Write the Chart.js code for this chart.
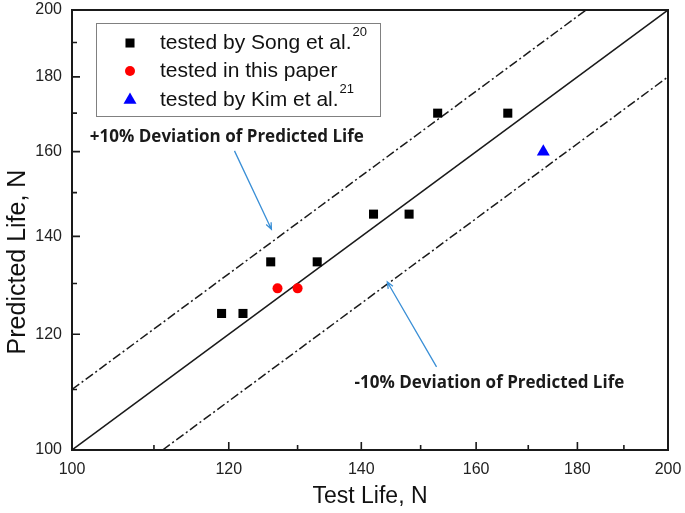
<!DOCTYPE html>
<html>
<head>
<meta charset="utf-8">
<script src="https://cdn.jsdelivr.net/npm/chart.js@4/dist/chart.umd.min.js"></script>
<style>
  body { margin: 0; background: #fff; }
  #wrap { width: 685px; height: 513px; }
</style>
</head>
<body>
<div id="wrap"><canvas id="lifeChart" width="685" height="513"></canvas></div>
<script>
// data (log-log axes)
const songX = [119, 122, 126, 133, 142, 148, 153, 166];
const songY = [124, 124, 134.5, 134.5, 145, 145, 170, 170];
const paperX = [127, 130];
const paperY = [129, 129];
const kimX = [173];
const kimY = [160];

const axisMin = 100;
const axisMax = 200;
const majorTicks = [100, 120, 140, 160, 180, 200];
const minorTicks = [110, 130, 150, 170, 190];

// y = ratio * x reference lines
const exactRatio = 1;
const deviationRatios = [1.1, 0.9];

const legendLabels = ['tested by Song et al.', 'tested in this paper', 'tested by Kim et al.'];
const legendRefs = ['20', '', '21'];

const upperNote = '+10% Deviation of Predicted Life';
const lowerNote = '-10% Deviation of Predicted Life';
// arrow start/end and text anchor, in data units
const upperArrow = [[120.8, 160.2], [126.1, 141.6]];
const lowerArrow = [[152.8, 114.0], [144.3, 130.3]];
const upperNotePos = [102.1, 163.7];
const lowerNotePos = [138.9, 111.1];

function pts(xs, ys) {
  return xs.map((x, i) => ({ x: x, y: ys[i] }));
}

function ratioLine(k) {
  const x0 = Math.max(axisMin, axisMin / k);
  const x1 = Math.min(axisMax, axisMax / k);
  return [{ x: x0, y: k * x0 }, { x: x1, y: k * x1 }];
}

const FONT = '"Liberation Sans", Arial, sans-serif';

const markers = [
  { style: 'rect', color: '#000000', radius: 6.4 },
  { style: 'circle', color: '#ff0000', radius: 5 },
  { style: 'triangle', color: '#0000ff', radius: 7.5 }
];

function drawMarker(ctx, m, x, y) {
  ctx.save();
  ctx.fillStyle = m.color;
  ctx.beginPath();
  if (m.style === 'rect') {
    const s = m.radius * Math.SQRT1_2;
    ctx.rect(x - s, y - s, 2 * s, 2 * s);
  } else if (m.style === 'circle') {
    ctx.arc(x, y, m.radius, 0, Math.PI * 2);
  } else {
    const r = m.radius;
    ctx.moveTo(x, y - r);
    ctx.lineTo(x + r * Math.sin(Math.PI * 2 / 3), y + r * 0.5);
    ctx.lineTo(x - r * Math.sin(Math.PI * 2 / 3), y + r * 0.5);
    ctx.closePath();
  }
  ctx.fill();
  ctx.restore();
}

const decorPlugin = {
  id: 'decor',
  afterDraw(chart) {
    const ctx = chart.ctx;
    const a = chart.chartArea;
    const xs = chart.scales.x;
    const ys = chart.scales.y;

    // frame
    ctx.save();
    ctx.strokeStyle = '#1a1a1a';
    ctx.lineWidth = 2;
    ctx.strokeRect(a.left, a.top, a.right - a.left, a.bottom - a.top);

    // inward ticks on left and bottom
    ctx.lineWidth = 1.6;
    ctx.beginPath();
    majorTicks.forEach(v => {
      const px = xs.getPixelForValue(v);
      const py = ys.getPixelForValue(v);
      ctx.moveTo(px, a.bottom); ctx.lineTo(px, a.bottom - 8);
      ctx.moveTo(a.left, py); ctx.lineTo(a.left + 8, py);
    });
    minorTicks.forEach(v => {
      const px = xs.getPixelForValue(v);
      const py = ys.getPixelForValue(v);
      ctx.moveTo(px, a.bottom); ctx.lineTo(px, a.bottom - 5);
      ctx.moveTo(a.left, py); ctx.lineTo(a.left + 5, py);
    });
    ctx.stroke();
    ctx.restore();

    // y axis title (sits a little below the centre in the original)
    ctx.save();
    ctx.translate(18, 262);
    ctx.rotate(-Math.PI / 2);
    ctx.fillStyle = '#111';
    ctx.font = '25px ' + FONT;
    ctx.textAlign = 'center';
    ctx.textBaseline = 'middle';
    ctx.fillText('Predicted Life, N', 0, 0);
    ctx.restore();

    // legend box
    ctx.save();
    ctx.strokeStyle = '#808080';
    ctx.lineWidth = 1;
    ctx.strokeRect(96.5, 23.5, 284, 93);
    ctx.textBaseline = 'middle';
    ctx.fillStyle = '#111';
    const rowY = [43, 71, 100];
    legendLabels.forEach((txt, i) => {
      drawMarker(ctx, markers[i], 130, rowY[i]);
      ctx.font = '21px ' + FONT;
      ctx.fillText(txt, 160, rowY[i]);
      if (legendRefs[i]) {
        const w = ctx.measureText(txt).width;
        ctx.font = '13px ' + FONT;
        ctx.fillText(legendRefs[i], 160 + w + 1, rowY[i] - 11);
      }
    });
    ctx.restore();

    // annotations
    ctx.save();
    ctx.strokeStyle = '#3a8fd6';
    ctx.lineWidth = 1.3;
    [upperArrow, lowerArrow].forEach(arr => {
      const x0 = xs.getPixelForValue(arr[0][0]), y0 = ys.getPixelForValue(arr[0][1]);
      const x1 = xs.getPixelForValue(arr[1][0]), y1 = ys.getPixelForValue(arr[1][1]);
      const ang = Math.atan2(y1 - y0, x1 - x0);
      ctx.beginPath();
      ctx.moveTo(x0, y0);
      ctx.lineTo(x1, y1);
      ctx.moveTo(x1 - 7 * Math.cos(ang - 0.4), y1 - 7 * Math.sin(ang - 0.4));
      ctx.lineTo(x1, y1);
      ctx.lineTo(x1 - 7 * Math.cos(ang + 0.4), y1 - 7 * Math.sin(ang + 0.4));
      ctx.stroke();
    });
    ctx.fillStyle = '#1a1a1a';
    ctx.font = 'bold 17px "Open Sans", sans-serif';
    ctx.textBaseline = 'middle';
    ctx.fillText(upperNote, xs.getPixelForValue(upperNotePos[0]), ys.getPixelForValue(upperNotePos[1]));
    ctx.fillText(lowerNote, xs.getPixelForValue(lowerNotePos[0]), ys.getPixelForValue(lowerNotePos[1]));
    ctx.restore();
  }
};

const refLine = {
  borderColor: '#1a1a1a',
  borderWidth: 1.5,
  pointRadius: 0,
  showLine: true,
  fill: false
};

new Chart(document.getElementById('lifeChart'), {
  type: 'scatter',
  data: {
    datasets: [
      {
        label: legendLabels[0],
        data: pts(songX, songY),
        pointStyle: markers[0].style,
        pointRadius: markers[0].radius,
        backgroundColor: markers[0].color,
        borderWidth: 0
      },
      {
        label: legendLabels[1],
        data: pts(paperX, paperY),
        pointStyle: markers[1].style,
        pointRadius: markers[1].radius,
        backgroundColor: markers[1].color,
        borderWidth: 0
      },
      {
        label: legendLabels[2],
        data: pts(kimX, kimY),
        pointStyle: markers[2].style,
        pointRadius: markers[2].radius,
        backgroundColor: markers[2].color,
        borderWidth: 0
      },
      Object.assign({ data: ratioLine(exactRatio) }, refLine),
      Object.assign({ data: ratioLine(deviationRatios[0]), borderDash: [9, 3, 2, 3] }, refLine),
      Object.assign({ data: ratioLine(deviationRatios[1]), borderDash: [9, 3, 2, 3] }, refLine)
    ]
  },
  options: {
    responsive: false,
    devicePixelRatio: 1,
    animation: false,
    layout: { padding: { left: 0, right: 17, top: 10, bottom: 0 } },
    plugins: {
      legend: { display: false },
      tooltip: { enabled: false }
    },
    scales: {
      x: {
        type: 'logarithmic',
        min: axisMin,
        max: axisMax,
        grid: { display: false, drawTicks: false },
        border: { display: false },
        afterBuildTicks: s => { s.ticks = majorTicks.map(v => ({ value: v })); },
        afterFit: s => { s.height = 63; s.paddingLeft = 0; s.paddingRight = 0; },
        ticks: {
          callback: v => String(v),
          padding: 10,
          color: '#222',
          font: { family: FONT, size: 16 },
          maxRotation: 0,
          autoSkip: false
        },
        title: {
          display: true,
          text: 'Test Life, N',
          color: '#111',
          font: { family: FONT, size: 23 },
          padding: { top: 0, bottom: 3 }
        }
      },
      y: {
        type: 'logarithmic',
        min: axisMin,
        max: axisMax,
        grid: { display: false, drawTicks: false },
        border: { display: false },
        afterBuildTicks: s => { s.ticks = majorTicks.map(v => ({ value: v })); },
        afterFit: s => { s.width = 72; s.paddingTop = 0; s.paddingBottom = 0; },
        ticks: {
          callback: v => String(v),
          padding: 10,
          color: '#222',
          font: { family: FONT, size: 16 },
          autoSkip: false
        },
        title: { display: false }
      }
    }
  },
  plugins: [decorPlugin]
});
</script>
</body>
</html>
